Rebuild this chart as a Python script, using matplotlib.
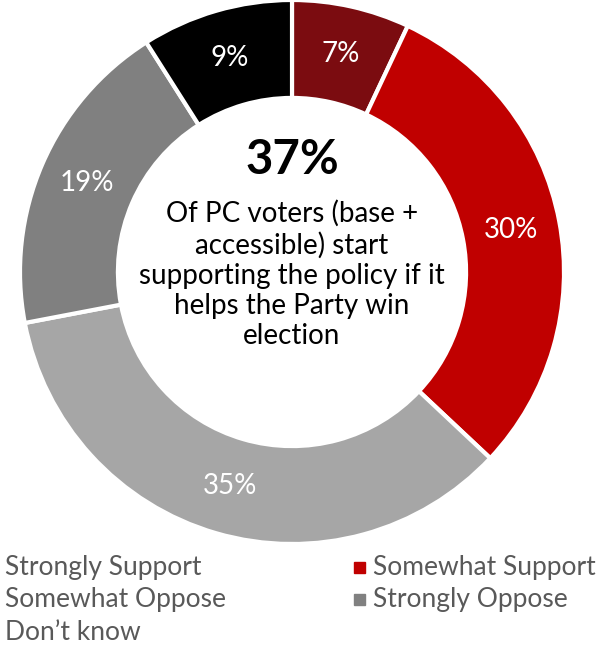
import matplotlib
matplotlib.use("Agg")
from matplotlib import pyplot as plt
from matplotlib.patches import Rectangle

labels = ['Strongly Support', 'Somewhat Support', 'Somewhat Oppose', 'Strongly Oppose', "Don\u2019t know"]
values = [7, 30, 35, 19, 9]
colors = ['#7B0C10', '#C00000', '#A6A6A6', '#808080', '#000000']

plt.rcParams['font.family'] = ['Lato', 'DejaVu Sans']

fig = plt.figure(figsize=(6.15, 6.45), dpi=100)
ax = fig.add_axes([20 / 615, 101 / 645, 544 / 615, 544 / 645])

wedges, texts = ax.pie(values, colors=colors, startangle=90, counterclock=False,
                       wedgeprops=dict(width=0.36, edgecolor='white', linewidth=3),
                       labels=[f'{v}%' for v in values], labeldistance=0.82,
                       textprops=dict(color='white', fontsize=20))
for t in texts:
    t.set_ha('center')
    t.set_va('center')
ax.set_xlim(-1, 1)
ax.set_ylim(-1, 1)
ax.set_aspect('equal')

# centre text
ax.text(0, 0.41, '37%', ha='center', va='center', fontsize=34, fontweight='bold')
ax.text(0, -0.01, 'Of PC voters (base +\naccessible) start\nsupporting the policy if it\nhelps the Party win\nelection',
        ha='center', va='center', fontsize=20, linespacing=1.2)

# legend
legend_color = '#595959'
rows = [(5, 568, labels[0], None), (373, 568, labels[1], colors[1]),
        (5, 600, labels[2], None), (373, 600, labels[3], colors[3]),
        (5, 632, labels[4], None)]
for x, y, name, c in rows:
    fig.text(x / 615, 1 - y / 645, name, ha='left', va='center', fontsize=19, color=legend_color)
    if c is not None:
        fig.patches.append(Rectangle(((x - 19) / 615, 1 - (y + 5) / 645), 11 / 615, 11 / 645,
                                     transform=fig.transFigure, color=c))

fig.savefig('out.png', dpi=100)
